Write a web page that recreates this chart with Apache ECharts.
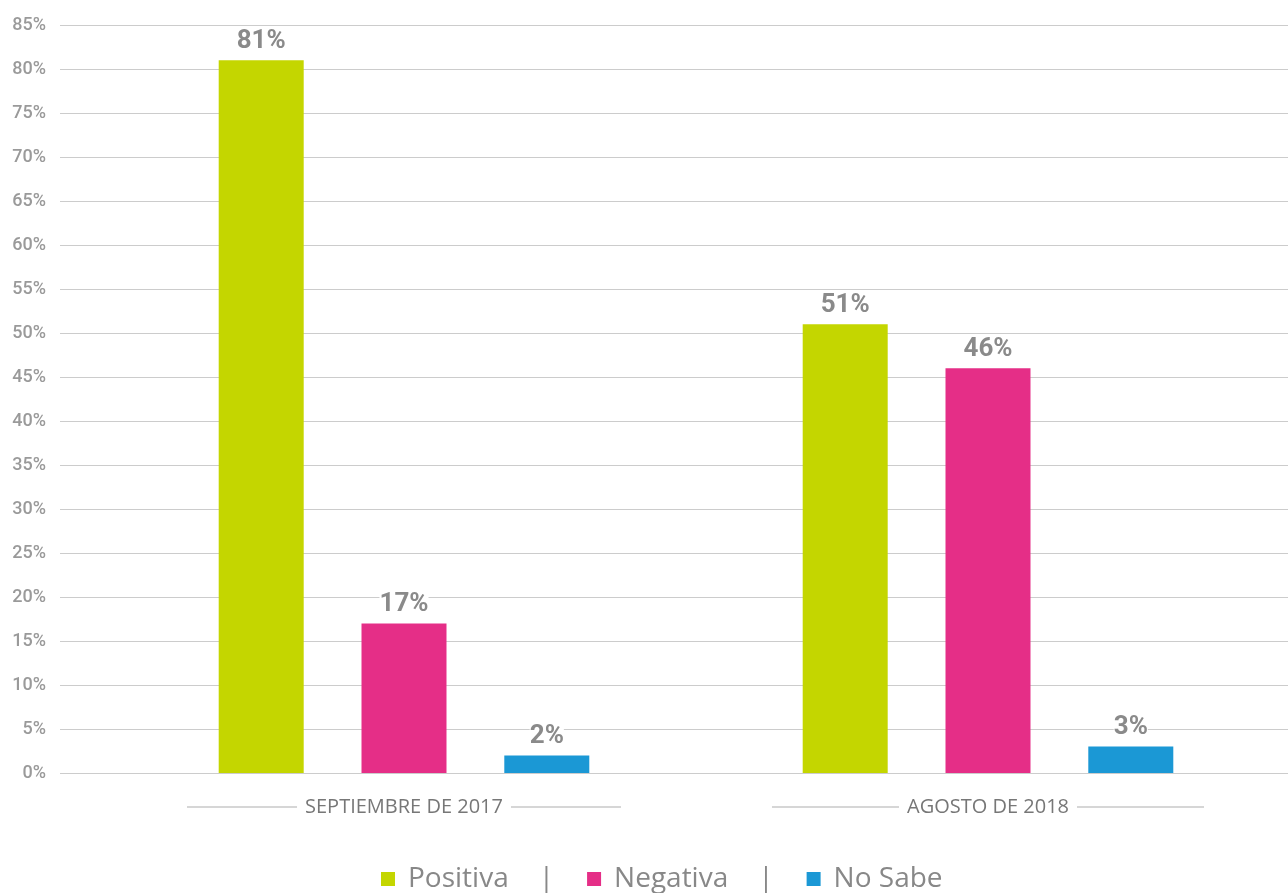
<!DOCTYPE html>
<html>
<head>
<meta charset="utf-8">
<script src="https://cdn.jsdelivr.net/npm/echarts@6/dist/echarts.min.js"></script>
<style>
    html, body { margin: 0; padding: 0; background: #fff; }
    #chart { width: 1288px; height: 893px; }
</style>
</head>
<body>
<div id="chart"></div>
<script>
const categories = ['SEPTIEMBRE DE 2017', 'AGOSTO DE 2018'];
const positiva = [81, 51];
const negativa = [17, 46];
const noSabe = [2, 3];
const seriesNames = ['Positiva', 'Negativa', 'No Sabe'];
const colors = ['#c4d600', '#e52e87', '#1b98d5'];

const catFont = '20px "Open Sans"';

// ancho del texto para ajustar las líneas a los lados de la categoría
function line_width(txt) {
    const ctx = document.createElement('canvas').getContext('2d');
    ctx.font = catFont;
    return Math.round(Math.max(20, (433 - ctx.measureText(txt).width) / 2 - 8));
}

let myChart = echarts.init(document.getElementById('chart'));

const barLabel = {
    show: true,
    position: 'top',
    distance: 6,
    formatter: '{c}%',
    fontFamily: 'Roboto',
    fontWeight: 'bold',
    fontSize: 26,
    color: '#8a8a8a',
    backgroundColor: '#fff'
};

const data = [positiva, negativa, noSabe];
let series = [];
for (let i = 0; i < 3; i++) {
    series.push({
        name: seriesNames[i],
        type: 'bar',
        xAxisIndex: 1,
        yAxisIndex: 1,
        barWidth: 85,
        barGap: '68%',
        itemStyle: { color: colors[i] },
        label: barLabel,
        data: data[i]
    });
}

let catRich = {
    t: {
        fontFamily: 'Open Sans',
        fontSize: 20,
        color: '#777',
        padding: [0, 8],
        verticalAlign: 'middle',
        lineHeight: 22
    }
};
categories.forEach(function (c) {
    const w = line_width(c);
    catRich['l' + w] = {
        width: w,
        height: 2,
        backgroundColor: '#d6d6d6',
        verticalAlign: 'middle',
        fontSize: 1
    };
});

myChart.setOption({
    animation: false,
    grid: [
        { left: 60, right: 0, top: 25, bottom: 120 },
        { left: 112, width: 1168, top: 25, bottom: 120 }
    ],
    xAxis: [
        { type: 'category', gridIndex: 0, data: [''], show: false },
        {
            type: 'category',
            gridIndex: 1,
            data: categories,
            axisLine: { show: false },
            axisTick: { show: false },
            axisLabel: {
                margin: 23,
                formatter: function (value) {
                    const w = line_width(value);
                    return '{l' + w + '| }{t|' + value + '}{l' + w + '| }';
                },
                rich: catRich
            }
        }
    ],
    yAxis: [
        {
            type: 'value',
            gridIndex: 0,
            min: 0,
            max: 85,
            interval: 5,
            axisLine: { show: false },
            axisTick: { show: false },
            axisLabel: {
                formatter: '{value}%',
                margin: 14,
                fontFamily: 'Roboto',
                fontWeight: 500,
                fontSize: 18,
                color: '#9a9a9a'
            },
            splitLine: { lineStyle: { color: '#cccccc', width: 1 } }
        },
        { type: 'value', gridIndex: 1, min: 0, max: 85, show: false }
    ],
    legend: {
        data: seriesNames,
        top: 860,
        left: 376,
        icon: 'rect',
        itemWidth: 14,
        itemHeight: 14,
        itemGap: 33,
        formatter: function (name) {
            if (name === seriesNames[seriesNames.length - 1]) {
                return '{n|' + name + '}';
            }
            return '{n|' + name + '}{s||}';
        },
        textStyle: {
            rich: {
                n: { fontFamily: 'Open Sans', fontSize: 28, color: '#888', padding: [0, 0, 0, 8] },
                s: { fontFamily: 'Open Sans', fontSize: 28, color: '#888', padding: [0, 0, 0, 30] }
            }
        }
    },
    series: series
});
</script>
</body>
</html>
